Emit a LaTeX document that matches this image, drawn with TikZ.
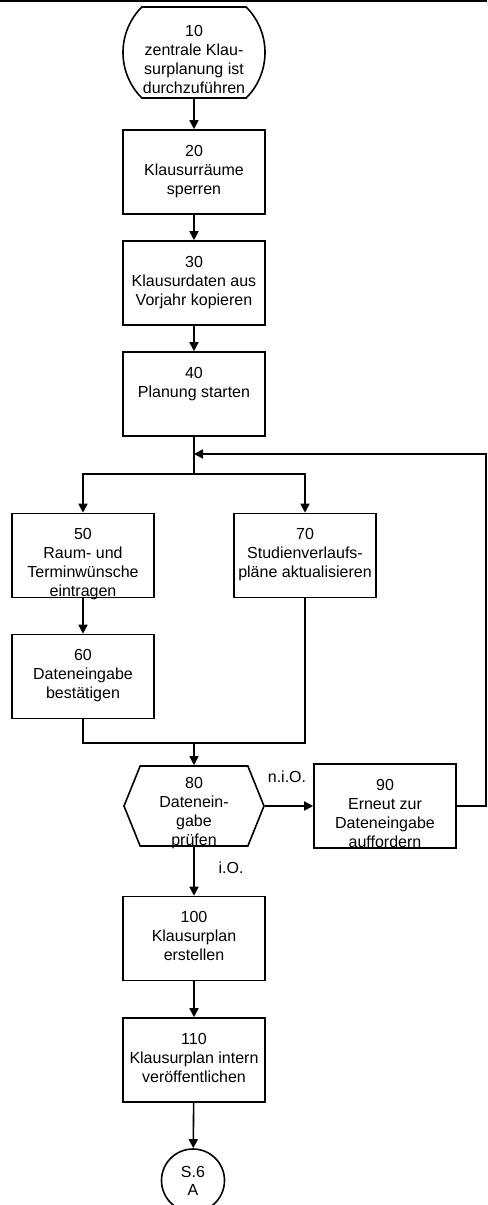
\documentclass[tikz,border=0pt]{standalone}
\usepackage{fontspec}
\setmainfont{Liberation Sans}
\usetikzlibrary{arrows.meta,shapes.misc,shapes.symbols}

\tikzset{every picture/.style={line width=1.2pt}}
\tikzset{
  procbox/.style={draw, rectangle, minimum width=106.5pt, minimum height=63pt, inner sep=0pt},
  termbox/.style={draw, rounded rectangle, rounded rectangle arc length=90, minimum width=106.5pt, minimum height=68.25pt, inner sep=0pt},
  testbox/.style={draw, signal, signal to=west and east, signal pointer angle=136, minimum width=105pt, minimum height=60pt, inner sep=0pt},
  pagebox/.style={draw, circle, minimum size=47.25pt, inner sep=0pt, align=center, font=\fontsize{12}{13.5}\selectfont},
  steptext/.style={anchor=north, align=center, inner sep=0pt, font=\fontsize{12}{14.25}\selectfont, yshift=#1},
  steptext/.default=-11.4pt,
  flowtext/.style={inner sep=0pt, font=\fontsize{12}{14.25}\selectfont},
  arr/.style={-{Triangle[length=6.75pt,width=6.75pt]}},
}

\begin{document}
\begin{tikzpicture}[x=0.75pt,y=0.75pt,yscale=-1,xscale=1]
\useasboundingbox (0,0) rectangle (487,1205);

%Straight Lines
\draw (0,1) -- (487,1) ;

%Shape: Terminator
\node [termbox, label={[steptext=-13.6pt]north:{10\\zentrale Klau-\\surplanung ist\\durchzuführen}}] (s10) at (194,52.5) {};
%Shape: Rectangle
\node [procbox, label={[steptext]north:{20\\Klausurräume\\sperren}}] (s20) at (194,172) {};
%Shape: Rectangle
\node [procbox, label={[steptext]north:{30\\Klausurdaten aus\\Vorjahr kopieren}}] (s30) at (194,283) {};
%Shape: Rectangle
\node [procbox, label={[steptext]north:{40\\Planung starten}}] (s40) at (194,394) {};
%Shape: Rectangle
\node [procbox, label={[steptext]north:{50\\Raum- und\\Terminwünsche\\eintragen}}] (s50) at (83,555.5) {};
%Shape: Rectangle
\node [procbox, label={[steptext]north:{70\\Studienverlaufs-\\pläne aktualisieren}}] (s70) at (305,555.5) {};
%Shape: Rectangle
\node [procbox, label={[steptext]north:{60\\Dateneingabe\\bestätigen}}] (s60) at (83,676.5) {};
%Shape: Hexagon
\node [testbox, label={[steptext=-8.4pt]north:{80\\Datenein-\\gabe\\prüfen}}] (s80) at (194,806) {};
%Shape: Rectangle
\node [procbox, label={[steptext]north:{90\\Erneut zur\\Dateneingabe\\auffordern}}] (s90) at (385,806) {};
%Shape: Rectangle
\node [procbox, label={[steptext]north:{100\\Klausurplan\\erstellen}}] (s100) at (194,938.5) {};
%Shape: Rectangle
\node [procbox, label={[steptext]north:{110\\Klausurplan intern\\veröffentlichen}}] (s110) at (194,1060) {};
%Shape: Circle
\node [pagebox] (s120) at (193,1180.5) {S.6\\A};

\coordinate (merge) at (194,454) ;
\coordinate (split) at (194,474) ;
\coordinate (join) at (194,743) ;
\coordinate (loop) at (486,454) ;

%Straight Lines
\draw [arr] (s10) -- (s20) ;
\draw [arr] (s20) -- (s30) ;
\draw [arr] (s30) -- (s40) ;
\draw (s40) -- (split) ;
\draw [arr] (split) -| (s50) ;
\draw [arr] (split) -| (s70) ;
\draw [arr] (s50) -- (s60) ;
\draw (s60) |- (join) ;
\draw (s70) |- (join) ;
\draw [arr] (join) -- (s80) ;
\draw [arr] (s80) -- (s90) ;
\draw [arr] (s90) -| (loop) -- (merge) ;
\draw [arr] (s80) -- (s100) ;
\draw [arr] (s100) -- (s110) ;
\draw [arr] (s110) -- (s120) ;

% Text Node
\node [flowtext] (nio) at (287,777) {n.i.O.};
% Text Node
\node [flowtext] (io) at (231,868) {i.O.};

\end{tikzpicture}
\end{document}
